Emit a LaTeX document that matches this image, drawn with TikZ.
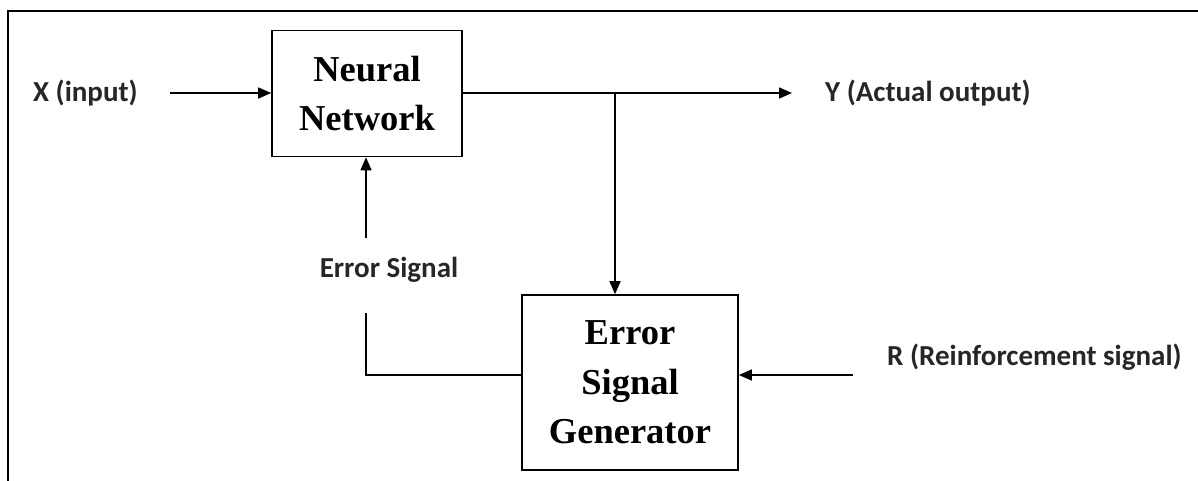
\documentclass[tikz,border=0pt]{standalone}
\usepackage{fontspec}
\setmainfont{Liberation Serif}
\newfontfamily\labfont{Carlito}
\usetikzlibrary{arrows.meta}
\tikzset{
  blk/.style={draw, line width=1.6pt, align=center, inner sep=0pt,
    font=\fontsize{36.5}{49.5}\selectfont\bfseries},
  lab/.style={inner sep=0pt, anchor=west, text=black!85,
    font=\labfont\fontsize{29}{34}\selectfont\bfseries},
  conn/.style={line width=1.5pt},
  arr/.style={conn, -{Triangle[length=13pt,width=11pt]}}
}
\begin{document}
\begin{tikzpicture}[x=1pt,y=-1pt]
\useasboundingbox (0,0) rectangle (1198,481);
% frame
\draw[line width=2pt] (1198,11) -- (8,11) -- (8,481);
% blocks
\node[blk, minimum width=190pt, minimum height=126pt] (nn) at (367,93.5) {Neural\\Network};
\node[blk, minimum width=216pt, minimum height=175pt] (esg) at (630,382.5) {Error\\Signal\\Generator};
% labels
\node[lab] (xin) at (33,93) {X (input)};
\node[lab] (yout) at (825,93) {Y (Actual output)};
\node[lab] (rin) at (887,357) {R (Reinforcement signal)};
\node[lab, anchor=center] (err) at (389,270) {Error Signal};
% helper coordinates
\coordinate (xs) at (170,93);
\coordinate (ye) at (792,93);
\coordinate (split) at (615,93);
\coordinate (rs) at (853,375);
\coordinate (bend) at (366,375);
\coordinate (eb) at (366,313);
\coordinate (et) at (366,238);
% connectors
\draw[arr] (xs) -- (nn.west |- xs);
\draw[arr] (nn.east |- ye) -- (ye);
\draw[arr] (split) -- (split |- esg.north);
\draw[arr] (rs) -- (esg.east |- rs);
\draw[conn] (esg.west |- bend) -- (bend) -- (eb);
\draw[arr] (et) -- (et |- nn.south);
\end{tikzpicture}
\end{document}
